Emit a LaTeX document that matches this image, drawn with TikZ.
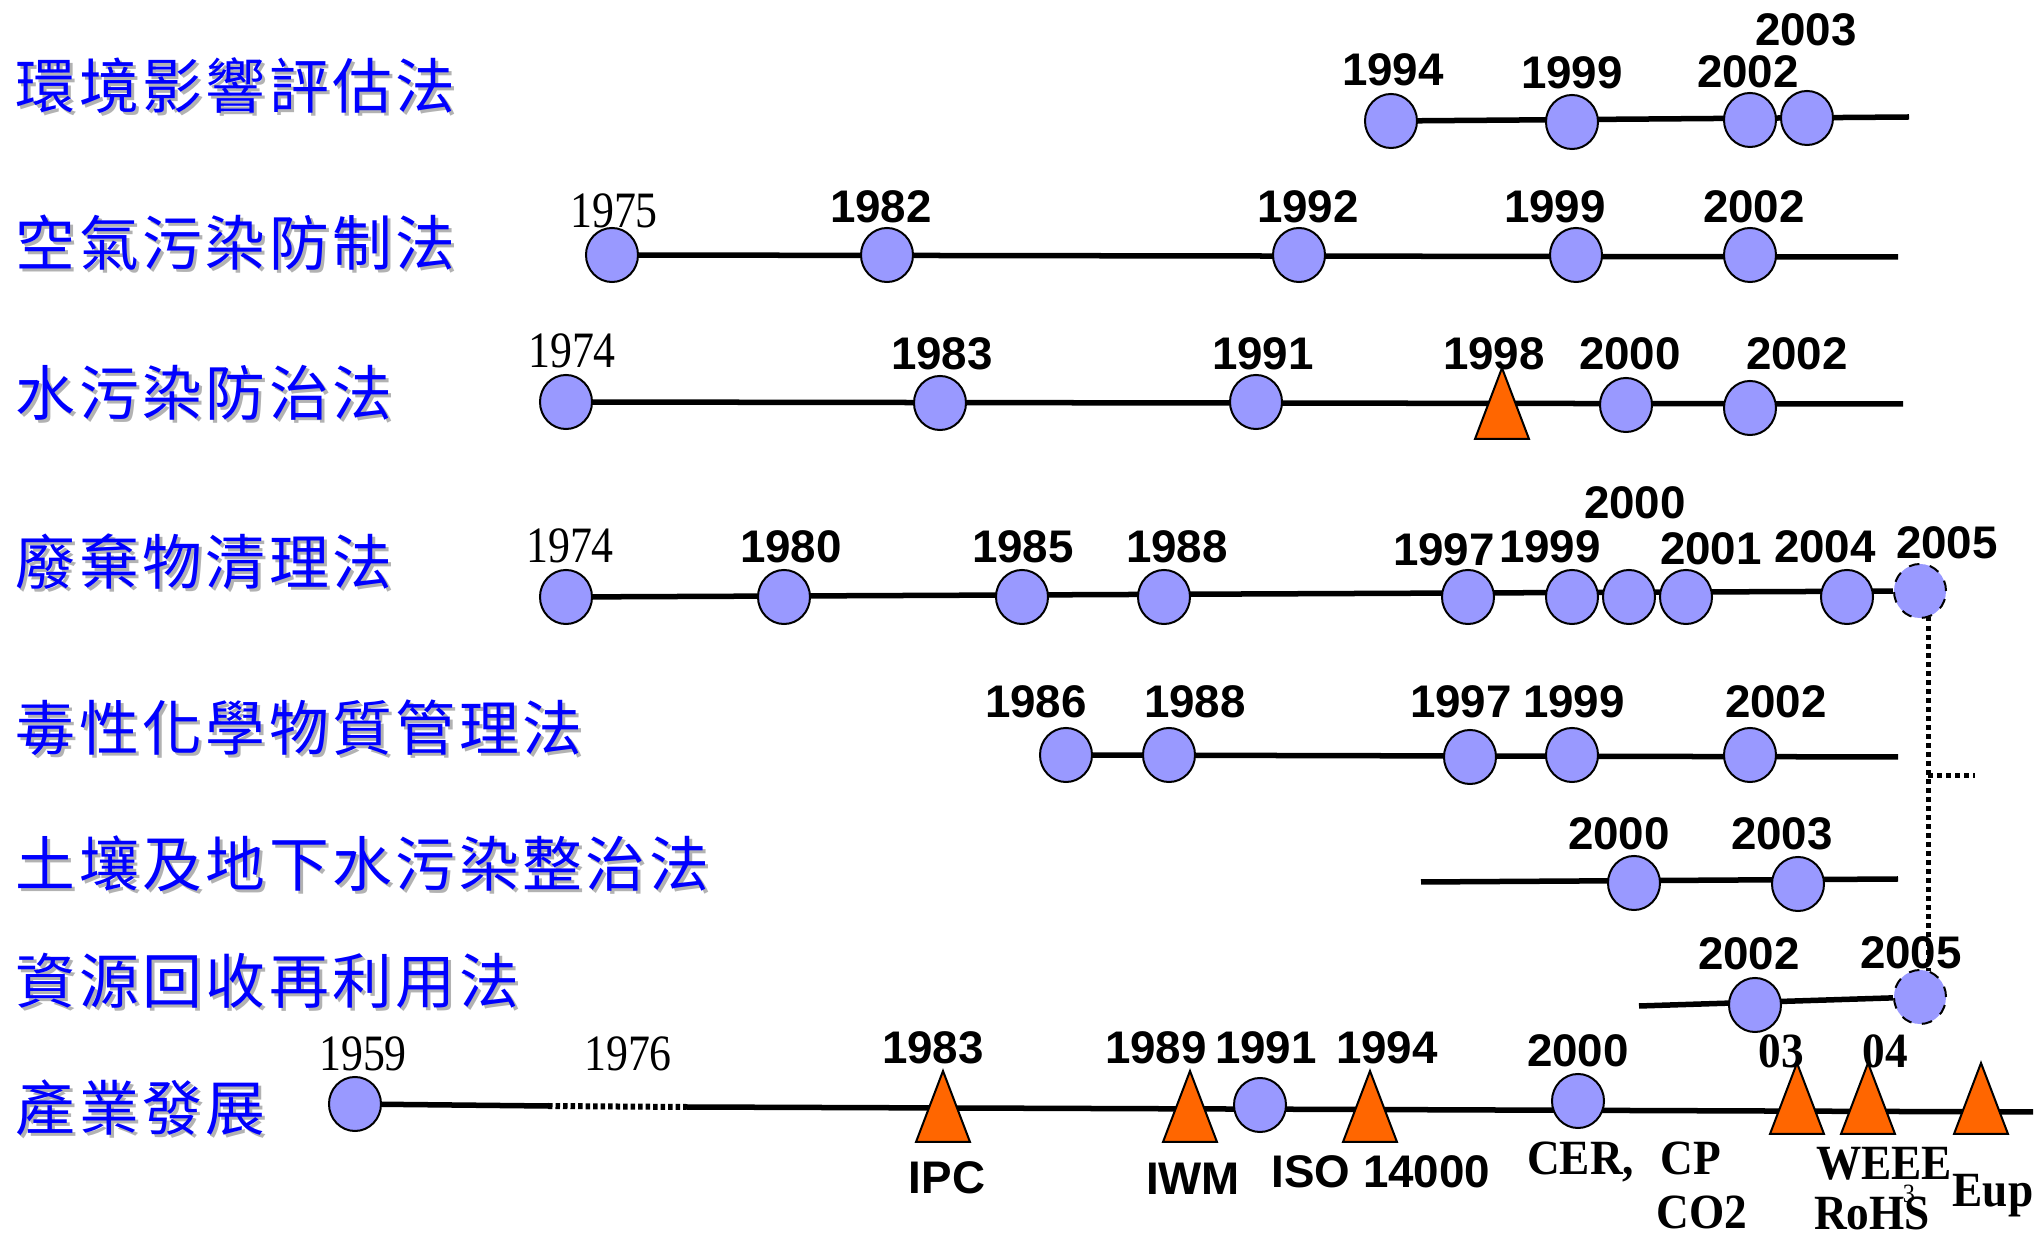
\documentclass[tikz,border=0pt]{standalone}
\usepackage{fontspec}
\usetikzlibrary{shapes.geometric,backgrounds}
\newfontfamily\lawfont[LetterSpace=6]{Noto Sans CJK TC}
\newfontfamily\yrsans{Liberation Sans}
\newfontfamily\yrserif[FakeStretch=0.86]{Liberation Serif}
\newfontfamily\notefont[FakeStretch=0.92]{Liberation Serif}
\definecolor{eventblue}{RGB}{153,153,255}
\definecolor{mileorange}{RGB}{255,102,0}
\definecolor{shadowgray}{RGB}{178,178,178}

\tikzset{
  law/.style={anchor=west, inner sep=0pt, text=blue, font=\lawfont\fontsize{17}{20}\selectfont},
  lawshadow/.style={law, text=shadowgray},
  event/.style={ellipse, draw=black, line width=0.02cm, fill=eventblue,
    minimum width=0.52cm, minimum height=0.54cm, inner sep=0pt},
  planned/.style={event, dashed},
  milestone/.style={draw=black, line width=0.02cm, fill=mileorange},
  yr/.style={inner sep=0pt, font=\yrsans\bfseries\fontsize{13}{15}\selectfont},
  oldyr/.style={inner sep=0pt, font=\yrserif\fontsize{14.5}{16}\selectfont},
  note/.style={inner sep=0pt, anchor=base, font=\notefont\bfseries\fontsize{14}{16}\selectfont},
  timeline/.style={line width=0.055cm},
  gapline/.style={line width=0.06cm, dash pattern=on 0.045cm off 0.03cm},
  linkline/.style={line width=0.05cm, dash pattern=on 0.045cm off 0.045cm},
}

\begin{document}
\begin{tikzpicture}[x=0.01cm, y=-0.01cm]
\useasboundingbox (0,0) rectangle (2038,1237);

% law names
\foreach \y/\t [count=\i] in {86/環境影響評估法, 243/空氣污染防制法, 393/水污染防治法,
    562/廢棄物清理法, 728/毒性化學物質管理法, 864/土壤及地下水污染整治法,
    981/資源回收再利用法, 1108/產業發展} {
  \node[lawshadow] (s\i) at (18,\y+3) {\t};
  \node[law] (n\i) at (15,\y) {\t};
}

% row 1
\foreach \x/\y/\lx/\ly/\t [count=\i] in {1391/121/1393/70/1994, 1572/122/1572/73/1999,
    1750/120/1748/72/2002, 1807/118/1806/30/2003} {
  \node[event] (a\i) at (\x,\y) {};
  \node[yr] (ay\i) at (\lx,\ly) {\t};
}
\coordinate (aend) at (1909,117);

% row 2
\node[event] (b1) at (612,255) {};
\node[oldyr] (by1) at (614,211) {1975};
\foreach \x/\lx/\t [count=\i from 2] in {887/881/1982, 1299/1308/1992, 1576/1555/1999, 1750/1754/2002} {
  \node[event] (b\i) at (\x,255) {};
  \node[yr] (by\i) at (\lx,207) {\t};
}
\coordinate (bend) at (1898,257);

% row 3
\node[event] (c1) at (566,402) {};
\node[oldyr] (cy1) at (572,351) {1974};
\foreach \x/\y/\lx/\t [count=\i from 2] in {940/403/942/1983, 1256/402/1263/1991,
    1626/405/1630/2000, 1750/408/1797/2002} {
  \node[event] (c\i) at (\x,\y) {};
  \node[yr] (cy\i) at (\lx,354) {\t};
}
\coordinate (cend) at (1903,404);
\coordinate (ct) at (1502,404);
\node[yr] (cty) at (1494,354) {1998};

% row 4
\node[event] (d1) at (566,597) {};
\node[oldyr] (dy1) at (570,546) {1974};
\foreach \x/\lx/\ly/\t [count=\i from 2] in {784/791/547/1980, 1022/1023/547/1985,
    1164/1177/547/1988, 1468/1444/550/1997, 1572/1550/547/1999, 1629/1635/503/2000,
    1686/1711/549/2001, 1847/1825/547/2004} {
  \node[event] (d\i) at (\x,597) {};
  \node[yr] (dy\i) at (\lx,\ly) {\t};
}
\node[planned] (d10) at (1920,591) {};
\node[yr] (dy10) at (1947,543) {2005};

% row 5
\foreach \x/\y/\lx/\t [count=\i] in {1066/755/1036/1986, 1169/755/1195/1988,
    1470/757/1461/1997, 1572/755/1574/1999, 1750/755/1776/2002} {
  \node[event] (e\i) at (\x,\y) {};
  \node[yr] (ey\i) at (\lx,702) {\t};
}
\coordinate (eend) at (1898,757);

% row 6
\coordinate (fstart) at (1421,882);
\foreach \x/\y/\lx/\t [count=\i] in {1634/883/1619/2000, 1798/884/1782/2003} {
  \node[event] (f\i) at (\x,\y) {};
  \node[yr] (fy\i) at (\lx,834) {\t};
}
\coordinate (fend) at (1898,879);

% row 7
\coordinate (gstart) at (1639,1006);
\node[event] (g1) at (1755,1005) {};
\node[yr] (gy1) at (1749,954) {2002};
\node[planned] (g2) at (1920,997) {};
\node[yr] (gy2) at (1911,953) {2005};

% link between the 2005 events
\coordinate (vtop) at (1928,617);
\coordinate (vmid) at (1928,776);
\coordinate (vbot) at (1928,971);
\coordinate (vend) at (1975,776);

% row 8
\node[event] (h1) at (355,1104) {};
\node[oldyr] (hy1) at (363,1054) {1959};
\node[oldyr] (hy2) at (628,1054) {1976};
\coordinate (hgap1) at (548,1106);
\coordinate (hgap2) at (686,1107);
\coordinate (hend) at (2033,1112);
\node[event] (h2) at (1260,1105) {};
\node[event] (h3) at (1578,1101) {};
\foreach \x/\y [count=\i] in {943/1107, 1190/1107, 1370/1107, 1797/1099, 1868/1099, 1981/1099}
  \coordinate (ht\i) at (\x,\y);
\foreach \lx/\t [count=\i from 3] in {933/1983, 1156/1989, 1266/1991, 1387/1994} {
  \node[yr] (hy\i) at (\lx,1048) {\t};
}
\node[yr] (hy7) at (1578,1051) {2000};
\node[note] (hy8) at (1781,1068) {03};
\node[note] (hy9) at (1885,1068) {04};
\node[yr] (hn1) at (947,1178) {IPC};
\node[yr] (hn2) at (1193,1179) {IWM};
\node[yr] (hn3) at (1381,1172) {ISO 14000};
\node[note] (hn4) at (1624,1175) {CER,\hspace{0.15cm} CP};
\node[note] (hn5) at (1702,1229) {CO2};
\node[note] (hn6) at (1884,1180) {WEEE};
\node[note] (hn7) at (1872,1230) {RoHS};
\node[note, font=\notefont\fontsize{7.5}{8}\selectfont] (hn8) at (1909,1203) {3};
\node[note] (hn9) at (1993,1207) {Eup};

% triangles
\foreach \p in {ct, ht1, ht2, ht3, ht4, ht5, ht6}
  \draw[milestone] (\p) +(0,-36) -- +(27,35) -- +(-27,35) -- cycle;

% lines
\begin{pgfonlayer}{background}
\draw[timeline] (a1) -- (aend);
\draw[timeline] (b1) -- (bend);
\draw[timeline] (c1) -- (cend);
\draw[timeline] (d1) -- (d10);
\draw[timeline] (e1) -- (eend);
\draw[timeline] (fstart) -- (fend);
\draw[timeline] (gstart) -- (g2);
\draw[timeline] (h1) -- (hgap1);
\draw[gapline] (hgap1) -- (hgap2);
\draw[timeline] (hgap2) -- (hend);
\draw[linkline] (vtop) -- (vbot);
\draw[linkline] (vmid) -- (vend);
\end{pgfonlayer}

\end{tikzpicture}
\end{document}
